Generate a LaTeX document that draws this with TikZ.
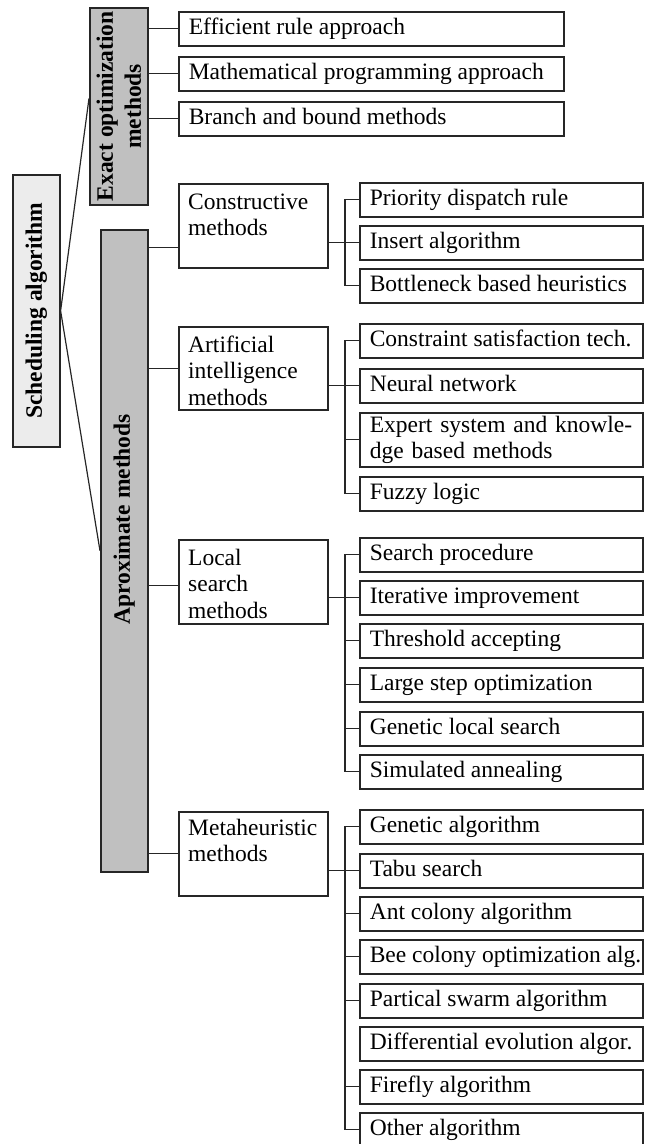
\documentclass[tikz,border=0pt]{standalone}
\usepackage{fontspec}
\setmainfont{Liberation Serif}
\usetikzlibrary{calc}
\definecolor{ink}{HTML}{262626}
\definecolor{bargray}{HTML}{C0C0C0}
\definecolor{rootgray}{HTML}{ECECEC}

\begin{document}
\begin{tikzpicture}[x=1pt,y=-1pt,
  every node/.style={font=\fontsize{23.5}{26.5}\selectfont},
  box/.style={draw=ink, line width=1.6pt, rectangle, inner sep=0pt, anchor=north west},
  rootbox/.style={box, fill=rootgray},
  barbox/.style={box, fill=bargray},
  midbox/.style={box, fill=white, minimum width=149pt, minimum height=84pt},
  midtext/.style={anchor=north west, align=left, inner sep=0pt},
  % one-line method box: text at natural width, flush left in a fixed-width line
  leaf/.style={box, fill=white, minimum height=34pt, inner xsep=10pt, inner ysep=0pt,
               text height=17pt, text depth=5pt,
               execute at begin node={\hbox to #1\bgroup\hbox\bgroup},
               execute at end node={\egroup\hss\egroup}},
  leaf/.default=263pt,
  leafmulti/.style={box, fill=white, minimum height=34pt, text width=263pt,
                    inner xsep=10pt, inner ysep=0pt, align=left},
  vlabel/.style={rotate=90, font=\fontsize{23.5}{28}\selectfont\bfseries,
                 align=center, inner sep=0pt},
  link/.style={draw=ink, line width=1.2pt},
]
\useasboundingbox (0,0) rectangle (649,1144);

% ---- root and the two method families
\node[rootbox, minimum width=47pt, minimum height=272pt] (sched) at (12,174) {};
\node[vlabel] (sched-t) at (sched.center) {Scheduling algorithm};

\node[barbox, minimum width=58pt, minimum height=197pt] (exact) at (89,7) {};
\node[vlabel] (exact-t) at (exact.center) {Exact optimization\\methods};

\node[barbox, minimum width=47pt, minimum height=642pt] (apx) at (100,229) {};
\node[vlabel] (apx-t) at ($(apx.north)!0.451!(apx.south)$) {Aproximate methods};

% ---- exact methods
\node[leaf=365pt] (eff)  at (178,11)  {Efficient rule approach};
\node[leaf=365pt] (math) at (178,56)  {Mathematical programming approach};
\node[leaf=365pt] (bnb)  at (178,101) {Branch and bound methods};

% ---- approximate method groups
\node[midbox] (cons) at (178,183) {};
\node[midtext] (cons-t) at ([shift={(10pt,-7.5pt)}]cons.north west) {\strut Constructive\\methods};
\node[midbox, minimum height=83pt] (ai) at (178,326) {};
\node[midtext] (ai-t) at ([shift={(10pt,-7.5pt)}]ai.north west) {\strut Artificial\\intelligence\\methods};
\node[midbox] (loc) at (178,539) {};
\node[midtext] (loc-t) at ([shift={(10pt,-7.5pt)}]loc.north west) {\strut Local\\search\\methods};
\node[midbox] (meta) at (178,811) {};
\node[midtext] (meta-t) at ([shift={(10pt,-5.5pt)}]meta.north west) {\strut Metaheuristic\\methods};

% ---- constructive methods
\node[leaf] (prio) at (359,182) {Priority dispatch rule};
\node[leaf] (ins)  at (359,225) {Insert algorithm};
\node[leaf] (bott) at (359,268) {Bottleneck based heuristics};

% ---- artificial intelligence methods
\node[leaf] (csat) at (359,323) {Constraint satisfaction tech.};
\node[leaf] (neur) at (359,368) {Neural network};
\node[leafmulti, minimum height=54pt] (expt) at (359,412)
  {\mbox{Expert system and knowle-}\\\mbox{dge based methods}};
\node[leaf] (fuzz) at (359,476) {Fuzzy logic};

% ---- local search methods
\node[leaf] (srch) at (359,537) {Search procedure};
\node[leaf] (iter) at (359,580) {Iterative improvement};
\node[leaf] (thr)  at (359,623) {Threshold accepting};
\node[leaf] (lso)  at (359,667) {Large step optimization};
\node[leaf] (gls)  at (359,711) {Genetic local search};
\node[leaf] (sann) at (359,754) {Simulated annealing};

% ---- metaheuristic methods
\node[leaf] (gen)  at (359,809)  {Genetic algorithm};
\node[leaf] (tabu) at (359,853)  {Tabu search};
\node[leaf] (ant)  at (359,896)  {Ant colony algorithm};
\node[leaf] (bee)  at (359,939)  {Bee colony optimization alg.};
\node[leaf] (pso)  at (359,983)  {Partical swarm algorithm};
\node[leaf] (de)   at (359,1026) {Differential evolution algor.};
\node[leaf] (ffly) at (359,1069) {Firefly algorithm};
\node[leaf] (oth)  at (359,1112) {Other algorithm};

% ---- root connectors
\coordinate (exact-in) at ($(exact.north west)!0.46!(exact.south west)$);
\draw[link] (exact-in) -- (sched.east) -- (apx.west);

% ---- exact family connectors
\draw[link] (eff.west -| exact.east) -- (eff.west);
\draw[link] (math.west -| exact.east) -- (math.west);
\draw[link] (bnb.west -| exact.east) -- (bnb.west);

% ---- approximate family connectors
\coordinate (cons-in) at ([yshift=-22pt]cons.west);
\coordinate (loc-in) at ([yshift=-4pt]loc.west);
\draw[link] (cons-in -| apx.east) -- (cons-in);
\draw[link] (ai.west -| apx.east) -- (ai.west);
\draw[link] (loc-in -| apx.east) -- (loc-in);
\draw[link] (meta.west -| apx.east) -- (meta.west);

% ---- brackets to the individual methods
\draw[link] (cons.east |- ins.west) -- (ins.west);
\draw[link] (prio.west) -- ++(-14pt,0) |- (bott.west);

\draw[link] (ai.east |- neur.west) -- (neur.west);
\draw[link] (csat.west) -- ++(-14pt,0) |- (fuzz.west);
\draw[link] (expt.west) -- ++(-14pt,0);

\draw[link] (loc.east |- iter.west) -- (iter.west);
\draw[link] (srch.west) -- ++(-14pt,0) |- (sann.west);
\foreach \n in {thr,lso,gls} \draw[link] (\n.west) -- ++(-14pt,0);

\draw[link] (meta.east |- tabu.west) -- (tabu.west);
\draw[link] (gen.west) -- ++(-14pt,0) |- (oth.west);
\foreach \n in {ant,bee,pso,ffly} \draw[link] (\n.west) -- ++(-14pt,0);
\end{tikzpicture}
\end{document}
